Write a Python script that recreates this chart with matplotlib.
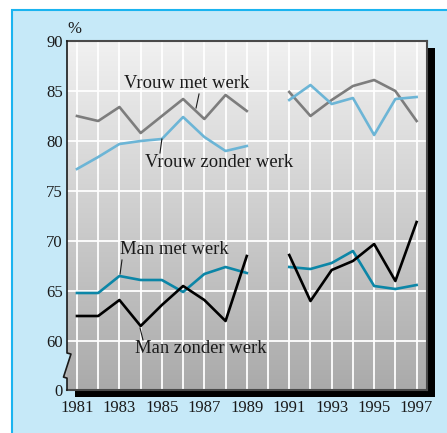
import numpy as np
import matplotlib
matplotlib.use('Agg')
import matplotlib.pyplot as plt
from matplotlib.patches import Rectangle, Polygon
from matplotlib.colors import LinearSegmentedColormap

plt.rcParams['font.family'] = ['Liberation Serif', 'DejaVu Serif']

#
# a) Data (1990 missing)
#
years = list(range(1981, 1998))
nan = np.nan
vrouw_met_werk    = [82.5, 82.0, 83.4, 80.8, 82.5, 84.2, 82.2, 84.6, 83.0, nan,
                     84.9, 82.5, 84.1, 85.5, 86.1, 85.0, 82.0]
vrouw_zonder_werk = [77.2, 78.4, 79.7, 80.0, 80.2, 82.4, 80.4, 79.0, 79.5, nan,
                     84.1, 85.6, 83.7, 84.3, 80.6, 84.2, 84.4]
man_met_werk      = [64.8, 64.8, 66.5, 66.1, 66.1, 64.9, 66.7, 67.4, 66.8, nan,
                     67.4, 67.2, 67.8, 69.0, 65.5, 65.2, 65.6]
man_zonder_werk   = [62.5, 62.5, 64.1, 61.5, 63.6, 65.5, 64.1, 62.0, 68.5, nan,
                     68.6, 64.0, 67.1, 68.0, 69.7, 66.0, 71.9]

ytick_vals = [55.1, 60, 65, 70, 75, 80, 85, 90]
ytick_labels = ['0', '60', '65', '70', '75', '80', '85', '90']
xtick_vals = list(range(1981, 1998, 2))
hgrid = [60, 65, 70, 75, 80, 85]

W, H = 447, 433
fig = plt.figure(figsize=(W / 100, H / 100), dpi=100)
fig.patch.set_facecolor('white')

# light blue frame
fig.add_artist(Rectangle((12 / W, -0.1), 1.2, (H - 10) / H + 0.1,
                         transform=fig.transFigure, facecolor='#c6e9f8',
                         edgecolor='#1ab4f0', lw=1.5, zorder=-3))
# drop shadow
fig.add_artist(Rectangle((75 / W, (H - 397) / H), 360 / W, 349 / H,
                         transform=fig.transFigure, facecolor='black',
                         edgecolor='none', zorder=-2))

ax = fig.add_axes([67 / W, (H - 390) / H, 360 / W, 349 / H])
ax.set_facecolor('none')

# gray gradient background
cmap = LinearSegmentedColormap.from_list('g', ['#aaaaaa', '#f1f1f1'])
grad = np.linspace(0, 1, 256).reshape(-1, 1)
ax.imshow(grad, extent=[0, 1, 0, 1], transform=ax.transAxes, aspect='auto',
          cmap=cmap, origin='lower', zorder=0)

# grid
for yr in years:
    ax.axvline(yr, color='white', lw=1.3, zorder=1)
for g in hgrid:
    ax.axhline(g, color='white', lw=1.3, zorder=1)

ax.plot(years, vrouw_met_werk, color='#7d7d7d', lw=1.9, zorder=3)
ax.plot(years, vrouw_zonder_werk, color='#6cb5d6', lw=1.9, zorder=3)
ax.plot(years, man_met_werk, color='#0c86a7', lw=1.9, zorder=3)
ax.plot(years, man_zonder_werk, color='black', lw=1.9, zorder=3)

# labels with leader lines
lab_kw = dict(fontsize=13.4, ha='center', va='center', color='#1a1a1a', zorder=5)
ax.text(1986.18, 85.8, 'Vrouw met werk', **lab_kw)
ax.plot([1986.75, 1986.61], [84.7, 83.3], color='#1a1a1a', lw=0.8, zorder=5)
ax.text(1987.69, 77.9, 'Vrouw zonder werk', **lab_kw)
ax.plot([1985.0, 1984.91], [80.2, 78.8], color='#1a1a1a', lw=0.8, zorder=5)
ax.text(1985.57, 69.2, 'Man met werk', **lab_kw)
ax.plot([1983.12, 1983.03], [68.1, 66.7], color='#1a1a1a', lw=0.8, zorder=5)
ax.text(1986.84, 59.3, 'Man zonder werk', **lab_kw)
ax.plot([1983.97, 1984.11], [61.3, 60.1], color='#1a1a1a', lw=0.8, zorder=5)

ax.text(1980.9, 91.2, '%', fontsize=12, ha='center', va='center',
        color='#1a1a1a', clip_on=False)

ax.set_xlim(1980.53, 1997.49)
ax.set_ylim(55.1, 90)
ax.set_yticks(ytick_vals)
ax.set_yticklabels(ytick_labels)
ax.set_xticks(xtick_vals)
ax.set_xticklabels([str(x) for x in xtick_vals])
ax.tick_params(length=0, labelsize=12, colors='#1a1a1a')
ax.tick_params(axis='y', pad=3)
ax.tick_params(axis='x', pad=7)

for s in ['top', 'right', 'bottom']:
    ax.spines[s].set_color('#4a4a4a')
    ax.spines[s].set_linewidth(1.5)
ax.spines['left'].set_visible(False)

# left axis with a break
zx = [0, 0, 0.011, -0.0097, 0, 0]
zy = [1, 0.106, 0.103, 0.037, 0.034, 0]
ax.add_patch(Polygon([(0, 0.106), (0.011, 0.103), (0, 0.068)], closed=True,
                     transform=ax.transAxes, facecolor='#c6e9f8',
                     edgecolor='none', zorder=4, clip_on=False))
ax.add_patch(Polygon([(0, 0.068), (-0.0097, 0.037), (0, 0.034)], closed=True,
                     transform=ax.transAxes, facecolor='#b5b5b5',
                     edgecolor='none', zorder=4, clip_on=False))
ax.plot(zx, zy, transform=ax.transAxes, color='#1a1a1a', lw=1.2,
        clip_on=False, zorder=6)

fig.savefig('out.png', dpi=100)
